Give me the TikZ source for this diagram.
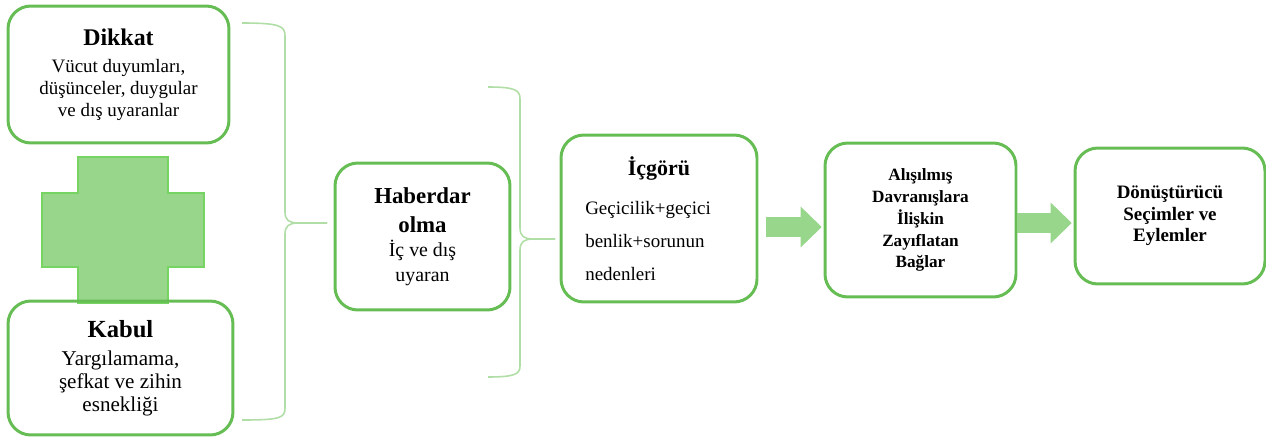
\documentclass[tikz,border=0pt]{standalone}
\usepackage{fontspec}
\setmainfont{Liberation Serif}
\usetikzlibrary{arrows.meta}

\definecolor{boxgreen}{RGB}{101,189,84}
\definecolor{crossfill}{RGB}{152,214,140}
\definecolor{crossline}{RGB}{118,212,98}
\definecolor{bracegreen}{RGB}{176,222,166}
\definecolor{arrowgreen}{RGB}{152,214,140}

\begin{document}
\begin{tikzpicture}[
    x=0.02cm, y=-0.02cm,
    box/.style={draw=boxgreen, line width=1.7pt, rounded corners=13pt,
      align=center, inner sep=0pt},
    bracket/.style={draw=bracegreen, line width=0.9pt},
    flow/.style={draw=arrowgreen, line width=11.3pt,
      -{Triangle[width=22.5pt, length=12pt]}},
  ]
  \useasboundingbox (0,0) rectangle (1266,439);

  % la croix entre les deux cadres
  \filldraw[fill=crossfill, draw=crossline, line width=1pt]
    (78,157) -- (168,157) -- (168,193) -- (204,193) -- (204,267) -- (168,267)
    -- (168,303) -- (78,303) -- (78,267) -- (42,267) -- (42,193) -- (78,193) -- cycle;

  \node[box, minimum width=4.42cm, minimum height=2.74cm,
        font=\fontsize{10.8}{12.5}\selectfont] (dikkat) at (118.5,74.5)
    {{\fontsize{13.6}{16}\selectfont\bfseries Dikkat}\\[2.8pt]
     Vücut duyumları,\\ düşünceler, duygular\\ ve dış uyaranlar};
  \node[box, minimum width=4.5cm, minimum height=2.68cm,
        font=\fontsize{12}{13}\selectfont] (kabul) at (120.5,368)
    {{\fontsize{14}{16}\selectfont\bfseries Kabul}\\[3.4pt]
     Yargılamama,\\ şefkat ve zihin\\ esnekliği};

  % accolade 1
  \draw[bracket] (242,23) .. controls (280,23) and (285,26) .. (285,36)
    -- (285,212) .. controls (285,220) and (289,223) .. (298,223) -- (327,223);
  \draw[bracket] (327,223) -- (298,223) .. controls (289,223) and (285,226) .. (285,234)
    -- (285,408) .. controls (285,418) and (280,420) .. (242,420);

  \node[box, minimum width=3.5cm, minimum height=2.94cm,
        font=\fontsize{11.3}{14}\selectfont] (haberdar) at (422.5,236.5)
    {{\fontsize{13}{15}\selectfont\bfseries Haberdar}\\[2.4pt]
     {\fontsize{13}{15}\selectfont\bfseries olma}\\
     İç ve dış\\ uyaran};

  % accolade 2
  \draw[bracket] (488,87) .. controls (515,87) and (520,90) .. (520,99)
    -- (520,228) .. controls (520,236) and (524,239) .. (533,239) -- (555,239);
  \draw[bracket] (555,239) -- (533,239) .. controls (524,239) and (520,242) .. (520,250)
    -- (520,366) .. controls (520,374) and (515,377) .. (488,377);

  \node[box, minimum width=3.92cm, minimum height=3.34cm, text width=2.95cm,
        align=left, font=\fontsize{10.8}{18.7}\selectfont] (icgoru) at (659,218.5)
    {{\centering\fontsize{12.5}{15}\selectfont\bfseries İçgörü\par}\vspace{4pt}
     Geçicilik+geçici\\ benlik+sorunun\\ nedenleri};

  \node[box, minimum width=3.82cm, minimum height=3.08cm,
        font=\fontsize{9.8}{12.5}\selectfont\bfseries] (aliskanlik) at (920.5,220)
    {Alışılmış\\ Davranışlara\\ İlişkin\\ Zayıflatan\\ Bağlar};

  \node[box, minimum width=3.8cm, minimum height=2.72cm,
        font=\fontsize{10.8}{12.2}\selectfont\bfseries] (donusturucu) at (1170,216)
    {Dönüştürücü\\ Seçimler ve\\ Eylemler};

  \draw[flow, shorten <=4pt, shorten >=1pt]
    (icgoru.east |- 0,227) -- (aliskanlik.west |- 0,227);
  \draw[flow, shorten <=0pt, shorten >=1pt]
    (aliskanlik.east |- 0,223) -- (donusturucu.west |- 0,223);
\end{tikzpicture}
\end{document}
